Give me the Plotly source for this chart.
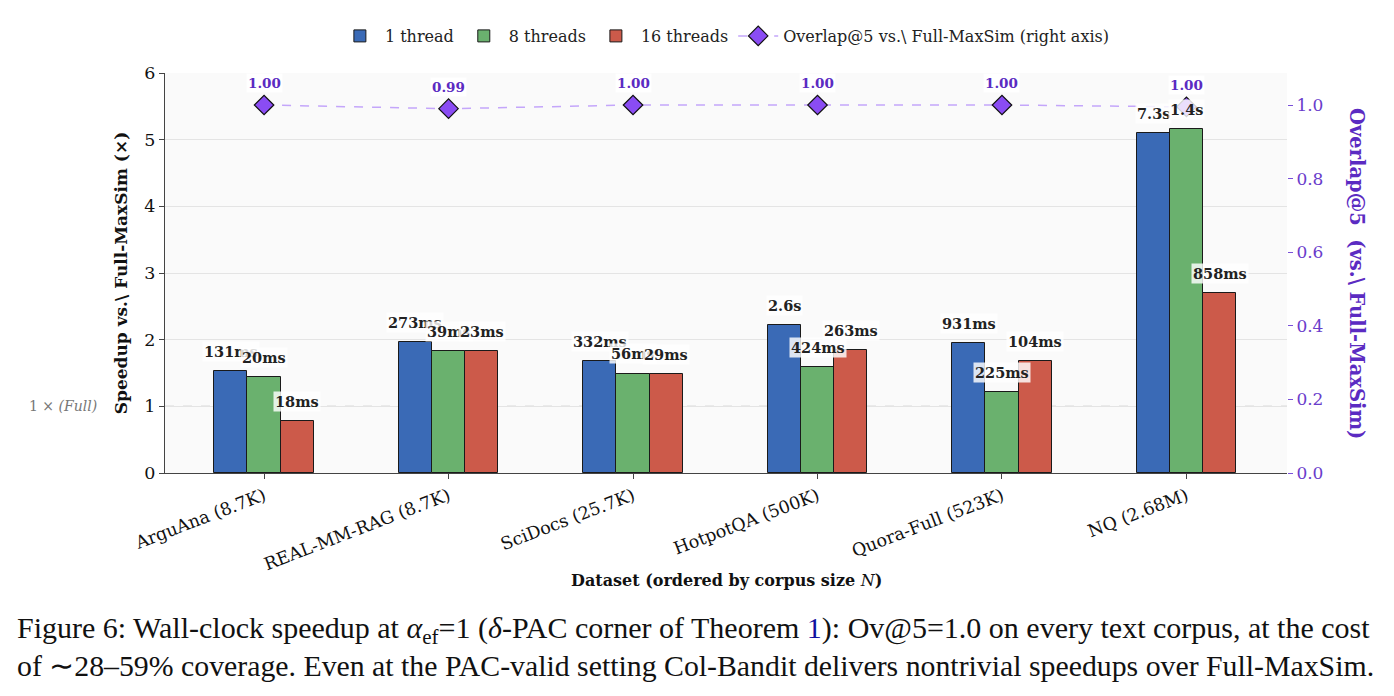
import plotly.graph_objects as go

datasets = ["ArguAna (8.7K)", "REAL-MM-RAG (8.7K)", "SciDocs (25.7K)",
            "HotpotQA (500K)", "Quora-Full (523K)", "NQ (2.68M)"]
speed_1 = [1.53, 1.96, 1.68, 2.22, 1.95, 5.10]
speed_8 = [1.44, 1.83, 1.49, 1.59, 1.21, 5.16]
speed_16 = [0.78, 1.83, 1.48, 1.84, 1.68, 2.70]
lat_1 = ["131ms", "273ms", "332ms", "2.6s", "931ms", "7.3s"]
lat_8 = ["20ms", "39ms", "56ms", "424ms", "225ms", "1.4s"]
lat_16 = ["18ms", "23ms", "29ms", "263ms", "104ms", "858ms"]
overlap = [1.00, 0.99, 1.00, 1.00, 1.00, 0.995]
overlap_lbl = ["1.00", "0.99", "1.00", "1.00", "1.00", "1.00"]

series_names = ["1 thread", "8 threads", "16 threads"]
colors = ["#3A6AB6", "#6AB16E", "#CC5A4A"]
FONT = "DejaVu Serif"
PURPLE = "#5B2BC2"
W = 0.18

xs = list(range(len(datasets)))
fig = go.Figure()
all_speeds = [speed_1, speed_8, speed_16]
all_lats = [lat_1, lat_8, lat_16]
offsets = [-W, 0.0, W]
for name, col, vals, off in zip(series_names, colors, all_speeds, offsets):
    fig.add_trace(go.Bar(
        x=[x + off for x in xs], y=vals, width=W, name=name,
        marker=dict(color=col, line=dict(color="#1a1a1a", width=1)),
        yaxis="y", hoverinfo="skip"))

fig.add_trace(go.Scatter(
    x=xs, y=overlap, yaxis="y2", mode="lines+markers",
    name="Overlap@5 vs.\\ Full-MaxSim (right axis)",
    line=dict(color="#C4A6FA", width=1.5, dash="dash"),
    marker=dict(symbol="diamond", size=15, color="#8A4CF3",
                line=dict(color="#111111", width=1.2)),
    hoverinfo="skip"))

annotations = []
for vals, lats, off in zip(all_speeds, all_lats, offsets):
    for x, v, t in zip(xs, vals, lats):
        annotations.append(dict(
            x=x + off, y=v, xref="x", yref="y", text="<b>%s</b>" % t,
            showarrow=False, yshift=20, yanchor="middle", xanchor="center",
            font=dict(family=FONT, size=14.5, color="#222222"),
            bgcolor="rgba(255,255,255,0.82)", borderpad=1))
for x, v, t in zip(xs, overlap, overlap_lbl):
    annotations.append(dict(
        x=x, y=v, xref="x", yref="y2", text="<b>%s</b>" % t,
        showarrow=False, yshift=22, yanchor="middle", xanchor="center",
        font=dict(family=FONT, size=13.5, color=PURPLE),
        bgcolor="rgba(255,255,255,0.85)", borderpad=1))

annotations.append(dict(
    x=-0.059, y=1, xref="paper", yref="y", xanchor="right", yanchor="middle",
    text="1 × <i>(Full)</i>", showarrow=False,
    font=dict(family=FONT, size=14, color="#777777")))
annotations.append(dict(
    x=0.5, y=-0.2675, xref="paper", yref="paper", xanchor="center", yanchor="middle",
    text="<b>Dataset (ordered by corpus size </b><i>N</i><b>)</b>", showarrow=False,
    font=dict(family=FONT, size=16, color="#111111")))
annotations.append(dict(
    x=1.0624, y=0.5, xref="paper", yref="paper", xanchor="center", yanchor="middle",
    text="<b>Overlap@5  (vs.\\ Full-MaxSim)</b>", showarrow=False, textangle=90,
    font=dict(family=FONT, size=19.5, color=PURPLE)))

CAP = "Liberation Serif"
annotations.append(dict(
    x=-0.1337, y=-0.3925, xref="paper", yref="paper", xanchor="left", yanchor="middle",
    text=("Figure 6: Wall-clock speedup at <i>α</i><sub>ef</sub>=1 (<i>δ</i>-PAC corner of Theorem "
          "<span style='color:#1010a0'>1</span>): Ov@5=1.0 on every text corpus, at the cost"),
    showarrow=False, font=dict(family=CAP, size=30, color="#111111")))
annotations.append(dict(
    x=-0.1337, y=-0.48, xref="paper", yref="paper", xanchor="left", yanchor="middle",
    text=("of ∼28–59% coverage. Even at the PAC-valid setting Col-Bandit delivers "
          "nontrivial speedups over Full-MaxSim."),
    showarrow=False, font=dict(family=CAP, size=29.8, color="#111111")))

fig.update_layout(
    width=1394, height=696,
    margin=dict(l=165, r=107, t=73, b=223),
    paper_bgcolor="white", plot_bgcolor="#FAFAFA",
    font=dict(family=FONT, color="#222222"),
    bargap=0, barmode="overlay",
    showlegend=True,
    legend=dict(orientation="h", x=0.499, y=1.0925, xanchor="center", yanchor="middle",
                font=dict(family=FONT, size=16, color="#222222"),
                bgcolor="rgba(0,0,0,0)", itemwidth=40),
    xaxis=dict(range=[-0.537, 5.545], tickvals=xs, ticktext=datasets, tickangle=-21,
               showgrid=False, zeroline=False, showline=True, linecolor="#444444",
               linewidth=1.2, ticks="outside", ticklen=5, tickcolor="#444444",
               tickfont=dict(family=FONT, size=17.5, color="#111111")),
    yaxis=dict(range=[0, 6], dtick=1, showgrid=True, gridcolor="#E4E4E4", gridwidth=1,
               zeroline=False, showline=True, linecolor="#444444", linewidth=1.2,
               ticks="outside", ticklen=5, tickcolor="#444444",
               tickfont=dict(family=FONT, size=17.5, color="#111111"),
               title=dict(text="<b>Speedup vs.\\ Full-MaxSim (×)</b>", standoff=12,
                          font=dict(family=FONT, size=17, color="#111111"))),
    yaxis2=dict(range=[0, 1.087], overlaying="y", side="right", tickvals=[0, 0.2, 0.4, 0.6, 0.8, 1.0],
                ticktext=["0.0", "0.2", "0.4", "0.6", "0.8", "1.0"],
                showgrid=False, zeroline=False, showline=False,
                ticks="outside", ticklen=5, tickcolor="#7A50D8",
                tickfont=dict(family=FONT, size=17, color="#6A3CCB")),
    annotations=annotations,
    shapes=[dict(type="line", xref="paper", yref="y", x0=0, x1=1, y0=1, y1=1,
                 line=dict(color="#9A9A9A", width=1, dash="dash"), layer="below")],
)

fig.write_html("out.html")
